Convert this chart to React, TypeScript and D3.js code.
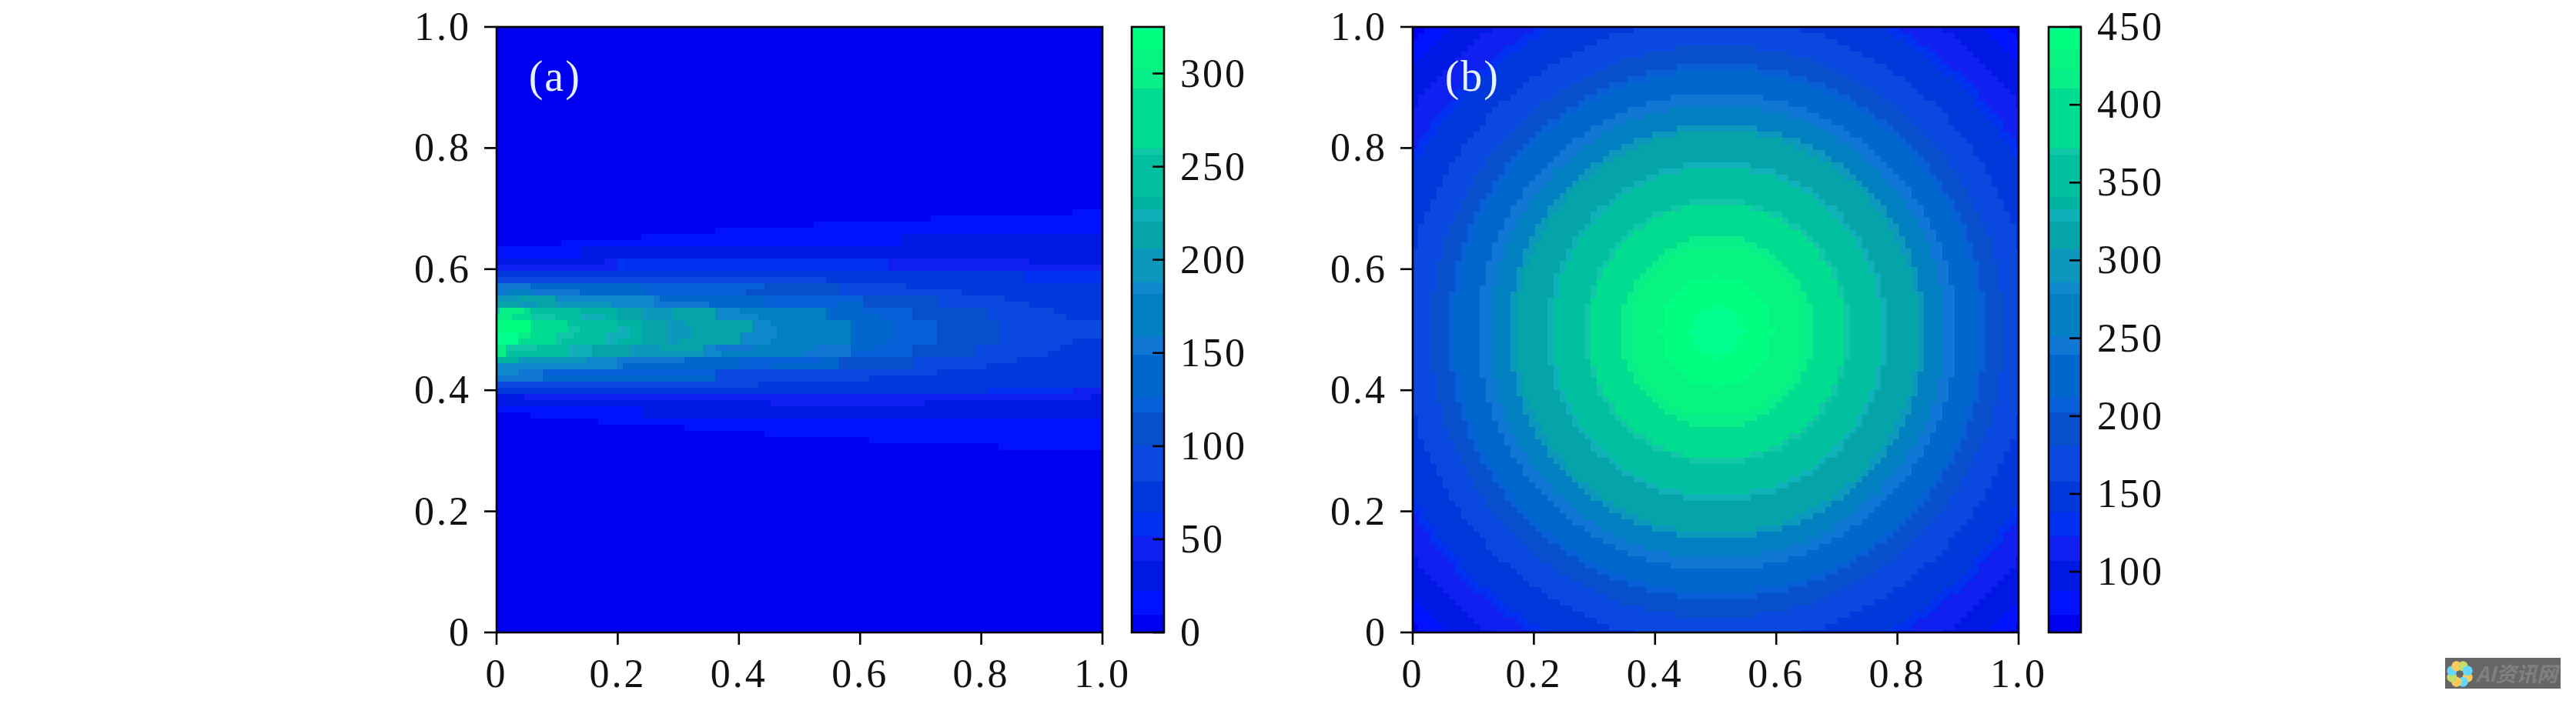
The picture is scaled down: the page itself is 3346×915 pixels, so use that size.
import React from "react";
import * as d3 from "d3";

// Quantised colour levels seen in both colour bars, low to high
const paletteColors = ["#0000f0","#0012ff","#0018e4","#1020f0","#0030f0","#0038dc","#0a48e0","#0850cc","#0860d8","#0068cc","#1078d4","#0080c0","#1088cc","#0c98bc","#04a4a8","#10b0b8","#00b4a4","#00c0a0","#10c8a8","#00dc90","#08ee88","#08f480","#00ff80","#00ff90"];
const paletteBreaks = [.03,.07,.12,.16,.2,.25,.31,.365,.39,.46,.49,.56,.58,.635,.68,.7,.72,.79,.8,.9,.93,.965,.993];

// Panel (a): value of each band level, and rows read top to bottom as [end of segment in grid cells, level]
const levelValuesA = [5,16,31,45,58,73,91,110,123,138,154,171,185,198,214,224,231,245,258,276,297,307,320,325];
const rowsA: [number, number][][] = [
  [[93.5,0],[100,1]],
  [[70.5,0],[100,1]],
  [[51.5,0],[100,1]],
  [[35.5,0],[100,1]],
  [[23.5,0],[65.5,1],[100,2]],
  [[10.5,0],[65.5,1],[100,2]],
  [[13.5,1],[100,2]],
  [[13.5,1],[100,2]],
  [[17.5,2],[19.5,3],[63.5,4],[86.5,3],[100,2]],
  [[19.5,3],[63.5,4],[100,3]],
  [[85.5,5],[100,4]],
  [[53.5,6],[85.5,5],[100,4]],
  [[5.5,10],[23.5,9],[43.5,8],[55.5,7],[66.5,6],[100,5]],
  [[1.5,10],[5.5,11],[13.5,10],[24.5,9],[40.5,8],[55.5,7],[75.5,6],[100,5]],
  [[3.5,13],[9.5,14],[25.5,12],[26.5,10],[43.5,9],[59.5,8],[71.5,7],[82.5,6],[100,5]],
  [[3.5,14],[6.5,13],[9.5,14],[18.5,13],[25.5,12],[34.5,10],[43.5,9],[55.5,8],[59.5,9],[71.5,7],[86.5,6],[100,5]],
  [[0.5,18],[4.5,20],[5.5,19],[13.5,17],[19.5,16],[23.5,14],[28.5,13],[35.5,14],[39.5,12],[53.5,11],[59.5,9],[67.5,8],[79.5,7],[90.5,6],[100,5]],
  [[2.5,20],[5.5,19],[9.5,18],[13.5,17],[17.5,15],[19.5,16],[23.5,14],[28.5,13],[35.5,14],[42.5,12],[53.5,11],[62.5,9],[67.5,8],[79.5,7],[92.5,6],[100,5]],
  [[5.5,22],[11.5,19],[19.5,17],[23.5,16],[27.5,14],[30.5,13],[41.5,14],[44.5,12],[57.5,11],[64.5,9],[71.5,8],[81.5,7],[94.5,6],[100,6]],
  [[5.5,22],[11.5,19],[13.5,18],[19.5,17],[21.5,15],[23.5,16],[27.5,14],[31.5,13],[41.5,14],[45.5,12],[57.5,11],[64.5,9],[71.5,8],[81.5,7],[94.5,6],[100,6]],
  [[3.5,23],[5.5,20],[9.5,19],[12.5,18],[17.5,17],[21.5,15],[23.5,16],[27.5,14],[31.5,13],[39.5,14],[45.5,12],[57.5,11],[64.5,9],[71.5,8],[81.5,7],[94.5,6],[100,6]],
  [[3.5,23],[9.5,19],[10.5,18],[17.5,17],[19.5,15],[23.5,16],[27.5,14],[29.5,13],[39.5,14],[44.5,12],[57.5,11],[63.5,9],[71.5,8],[81.5,7],[93.5,6],[100,5]],
  [[1.5,20],[6.5,18],[11.5,17],[15.5,15],[21.5,14],[26.5,13],[33.5,14],[35.5,12],[41.5,10],[51.5,11],[57.5,10],[61.5,9],[67.5,8],[77.5,7],[91.5,6],[100,5]],
  [[1.5,20],[11.5,17],[15.5,15],[21.5,14],[33.5,13],[36.5,12],[49.5,11],[57.5,10],[67.5,8],[77.5,7],[89.5,6],[100,5]],
  [[3.5,16],[14.5,13],[19.5,12],[30.5,10],[39.5,9],[52.5,8],[55.5,9],[67.5,7],[84.5,6],[100,5]],
  [[3.5,12],[19.5,12],[20.5,10],[39.5,9],[44.5,8],[55.5,9],[67.5,7],[79.5,6],[100,5]],
  [[3.5,12],[7.5,10],[35.5,8],[71.5,6],[100,5]],
  [[7.5,10],[35.5,9],[60.5,6],[100,5]],
  [[42.5,6],[100,5]],
  [[79.5,5],[93.5,4],[100,3]],
  [[4.5,2],[96.5,3],[100,2]],
  [[44.5,2],[69.5,3],[100,2]],
  [[23.5,1],[100,2]],
  [[5.5,0],[23.5,1],[100,2]],
  [[16.5,0],[100,1]],
  [[30.5,0],[100,1]],
  [[43.5,0],[100,1]],
  [[60.5,0],[100,1]],
  [[81.5,0],[100,1]],
];

// Panel (b): concentric rings, outer radius in axis units and the value inside that ring
const ringRadiiB = [.041,.092,.142,.158,.211,.219,.271,.281,.332,.342,.374,.393,.433,.443,.473,.518,.569,.583,.623,.667,.692];
const ringValuesB = [449,444,429,417,392,370,355,329,318,298,265,246,226,209,193,170,148,131,115,98,80,67];

const ticksXY = [0,.2,.4,.6,.8,1];
const ticksBarA = [0,50,100,150,200,250,300];
const ticksBarB = [100,150,200,250,300,350,400,450];
const domainBarA: [number,number] = [0,325];
const domainBarB: [number,number] = [61,450];

const CELL = 0.01017;            // one heat-map cell, axis units
const FIRST_ROW_TOP_A = 0.699;   // y of the top of rowsA[0]
const CENTER_B = [0.5025,0.4975];
const FONT = "'Liberation Serif', serif";
const fmt = (v:number)=> v===0 ? "0" : v.toFixed(1);

function colorFor(domain:[number,number]) {
  const norm = d3.scaleLinear().domain(domain).range([0,1]);
  const th = d3.scaleThreshold<number,string>().domain(paletteBreaks).range(paletteColors);
  return (v:number)=> th(norm(v));
}

function Axes({x,y,id,label,children,barX,barDomain,barTicks}:any){
  const color = colorFor(barDomain);
  const barY = d3.scaleLinear().domain(barDomain).range([y.range()[0],y.range()[1]]);
  const barSteps = d3.range(0,200).map(i=>barDomain[0]+(barDomain[1]-barDomain[0])*(i+.5)/200);
  const h=(barDomain[1]-barDomain[0])/200;
  const [x0,x1]=x.range(); const [y0,y1]=y.range();
  return <g>
    <clipPath id={id}><rect x={x0} y={y1} width={x1-x0} height={y0-y1}/></clipPath>
    <g clipPath={`url(#${id})`} shapeRendering="crispEdges">{children}</g>
    <text x={x(0.053)} y={y(0.895)} fontFamily={FONT} fontSize={56} letterSpacing={2} fill="#e6f2ff">{label}</text>
    <rect x={x0} y={y1} width={x1-x0} height={y0-y1} fill="none" stroke="#000" strokeWidth={2.6}/>
    {ticksXY.map(t=><g key={t}>
      <line x1={x(t)} x2={x(t)} y1={y0} y2={y0+16} stroke="#000" strokeWidth={2.6}/>
      <text x={x(t)} y={y0+71} textAnchor="middle" fontFamily={FONT} fontSize={52} letterSpacing={3} fill="#111">{fmt(t)}</text>
      <line x1={x0} x2={x0-16} y1={y(t)} y2={y(t)} stroke="#000" strokeWidth={2.6}/>
      <text x={x0-33} y={y(t)+17} textAnchor="end" fontFamily={FONT} fontSize={52} letterSpacing={3} fill="#111">{fmt(t)}</text>
    </g>)}
    <g shapeRendering="crispEdges">
      {barSteps.map((v:number)=><rect key={v} x={barX} width={42} y={barY(v+h/2)} height={Math.abs(barY(v)-barY(v+h))+1} fill={color(v)}/>)}
    </g>
    {barTicks.map((t:number)=><g key={t}>
      <line x1={barX+42} x2={barX+27} y1={barY(t)} y2={barY(t)} stroke="#000" strokeWidth={2.6}/>
      <text x={barX+63} y={barY(t)+17} fontFamily={FONT} fontSize={52} letterSpacing={3} fill="#111">{t}</text>
    </g>)}
    <rect x={barX} y={y1} width={42} height={y0-y1} fill="none" stroke="#000" strokeWidth={2.6}/>
  </g>;
}

function PanelA(){
  const x=d3.scaleLinear().domain([0,1]).range([645,1432]);
  const y=d3.scaleLinear().domain([0,1]).range([822,35]);
  const color=colorFor(domainBarA);
  return <Axes x={x} y={y} id="clipA" label="(a)" barX={1470} barDomain={domainBarA} barTicks={ticksBarA}>
    <rect x={645} y={35} width={787} height={787} fill={color(levelValuesA[0])}/>
    {rowsA.map((row,r)=>{
      const top=FIRST_ROW_TOP_A-r*CELL;
      let start=0;
      return row.map(([end,lvl],i)=>{
        const rect=<rect key={r+"-"+i} x={x(start*CELL)} width={x(end*CELL)-x(start*CELL)+.5} y={y(top)} height={y(top-CELL)-y(top)+.5} fill={color(levelValuesA[lvl])}/>;
        start=end; return rect;
      });
    })}
  </Axes>;
}

function PanelB(){
  const x=d3.scaleLinear().domain([0,1]).range([1835,2622]);
  const y=d3.scaleLinear().domain([0,1]).range([822,35]);
  const color=colorFor(domainBarB);
  const ring=d3.scaleThreshold<number,number>().domain(ringRadiiB).range(ringValuesB);
  const idx=d3.range(-50,51);
  return <Axes x={x} y={y} id="clipB" label="(b)" barX={2661} barDomain={domainBarB} barTicks={ticksBarB}>
    {idx.flatMap(i=>idx.map(j=>{
      const cx=CENTER_B[0]+i*CELL, cy=CENTER_B[1]+j*CELL;
      const v=ring(Math.hypot(i*CELL,j*CELL));
      return <rect key={i+"_"+j} x={x(cx-CELL/2)} y={y(cy+CELL/2)} width={x(CELL)-x(0)+.5} height={y(0)-y(CELL)+.5} fill={color(v)}/>;
    }))}
  </Axes>;
}

const petalColors=["#ffc95c","#63d8ff","#c6dc6a"];
function Watermark(){
  const ang=d3.range(0,8).map(i=>i*Math.PI/4+Math.PI/8);
  return <g>
    <rect x={3176} y={855} width={150} height={40} fill="#666"/>
    {ang.map((a,i)=><circle key={i} cx={3195+11*Math.cos(a)} cy={876+11*Math.sin(a)} r={6.5} fill={petalColors[[0,1,0,2,1,0,2,1][i]]}/>)}
    <text x={3216} y={886} fontFamily="'Noto Sans CJK SC','Noto Sans',sans-serif" fontWeight={700} fontStyle="italic" fontSize={27} fill="#808080" textLength={106}>AI资讯网</text>
  </g>;
}

export default function App(){
  return <svg width={3346} height={915} style={{position:"absolute",left:0,top:0,display:"block",background:"#fff"}}>
    <PanelA/><PanelB/><Watermark/>
  </svg>;
}
